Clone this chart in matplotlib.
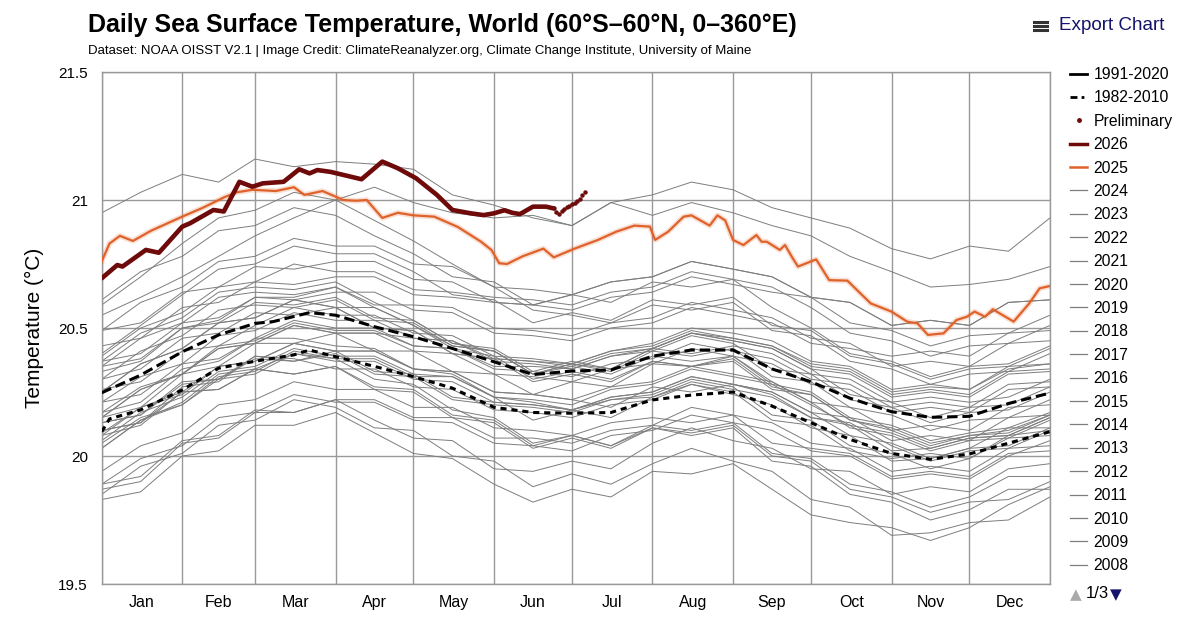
import matplotlib

matplotlib.use("Agg")
import matplotlib.pyplot as plt
from matplotlib.lines import Line2D

plt.rcParams["font.family"] = ["Liberation Sans", "DejaVu Sans"]

# --- Data ---
month_names = ["Jan", "Feb", "Mar", "Apr", "May", "Jun",
               "Jul", "Aug", "Sep", "Oct", "Nov", "Dec"]
month_starts = [0, 31, 59, 90, 120, 151, 181, 212, 243, 273, 304, 334, 365]

# day-of-year sample points used for the historical (gray) years
sample_days = [0, 15, 31, 45, 59, 74, 90, 105, 120, 135, 151, 166, 181,
               196, 212, 227, 243, 258, 273, 288, 304, 319, 334, 349, 365]

gray_years = list(range(1982, 2025))
gray_temps = [
    [19.87, 19.90, 20.05, 20.07, 20.17, 20.17, 20.22, 20.14, 20.07, 20.06, 19.95, 19.94, 19.98, 19.95, 20.05, 20.11, 20.06, 20.03, 19.95, 19.94, 19.85, 19.88, 19.86, 19.95, 19.97],
    [20.03, 20.14, 20.21, 20.32, 20.34, 20.40, 20.38, 20.30, 20.28, 20.18, 20.15, 20.05, 20.08, 20.04, 20.11, 20.08, 20.11, 19.98, 19.96, 19.85, 19.82, 19.75, 19.79, 19.87, 19.87],
    [19.85, 19.96, 20.01, 20.12, 20.14, 20.22, 20.19, 20.11, 20.10, 20.00, 19.98, 19.88, 19.93, 19.89, 19.97, 20.03, 19.98, 19.94, 19.83, 19.80, 19.69, 19.70, 19.74, 19.75, 19.84],
    [19.83, 19.86, 20.00, 20.02, 20.12, 20.12, 20.17, 20.09, 20.01, 19.99, 19.89, 19.82, 19.87, 19.84, 19.94, 19.93, 19.97, 19.87, 19.77, 19.74, 19.72, 19.67, 19.72, 19.81, 19.88],
    [19.89, 19.99, 20.04, 20.15, 20.17, 20.24, 20.21, 20.21, 20.14, 20.13, 20.05, 20.04, 20.02, 20.08, 20.10, 20.16, 20.13, 20.10, 20.02, 20.00, 19.91, 19.93, 19.91, 20.00, 20.06],
    [20.05, 20.15, 20.20, 20.31, 20.33, 20.41, 20.38, 20.38, 20.31, 20.31, 20.23, 20.22, 20.20, 20.26, 20.28, 20.34, 20.31, 20.28, 20.20, 20.12, 20.09, 20.03, 20.07, 20.08, 20.10],
    [20.08, 20.12, 20.25, 20.26, 20.34, 20.32, 20.35, 20.26, 20.25, 20.15, 20.13, 20.03, 20.07, 20.03, 20.11, 20.09, 20.12, 20.00, 19.98, 19.87, 19.84, 19.78, 19.82, 19.83, 19.90],
    [19.89, 19.92, 20.06, 20.08, 20.18, 20.17, 20.22, 20.22, 20.15, 20.15, 20.07, 20.07, 20.05, 20.10, 20.12, 20.19, 20.16, 20.13, 20.05, 20.03, 19.94, 19.96, 19.94, 20.03, 20.04],
    [20.06, 20.17, 20.23, 20.33, 20.35, 20.42, 20.39, 20.39, 20.32, 20.31, 20.23, 20.14, 20.18, 20.15, 20.23, 20.29, 20.26, 20.23, 20.15, 20.13, 20.04, 19.98, 20.02, 20.03, 20.10],
    [20.09, 20.19, 20.24, 20.35, 20.37, 20.44, 20.41, 20.33, 20.32, 20.23, 20.21, 20.20, 20.18, 20.23, 20.25, 20.31, 20.28, 20.25, 20.17, 20.08, 20.05, 19.99, 20.03, 20.11, 20.11],
    [20.10, 20.13, 20.25, 20.26, 20.34, 20.32, 20.35, 20.27, 20.26, 20.16, 20.14, 20.04, 20.08, 20.04, 20.12, 20.10, 20.13, 20.01, 19.99, 19.89, 19.86, 19.80, 19.84, 19.92, 19.92],
    [19.94, 20.04, 20.09, 20.20, 20.22, 20.29, 20.26, 20.26, 20.19, 20.19, 20.11, 20.10, 20.08, 20.13, 20.15, 20.13, 20.16, 20.05, 20.03, 20.01, 19.92, 19.94, 19.92, 20.01, 20.02],
    [20.03, 20.14, 20.20, 20.30, 20.32, 20.40, 20.37, 20.37, 20.30, 20.29, 20.21, 20.20, 20.18, 20.23, 20.25, 20.31, 20.28, 20.25, 20.17, 20.15, 20.06, 20.08, 20.06, 20.15, 20.16],
    [20.17, 20.21, 20.34, 20.37, 20.46, 20.46, 20.43, 20.42, 20.34, 20.32, 20.23, 20.21, 20.18, 20.22, 20.23, 20.28, 20.24, 20.20, 20.11, 20.08, 19.98, 19.99, 20.03, 20.04, 20.11],
    [20.10, 20.13, 20.27, 20.29, 20.39, 20.38, 20.34, 20.34, 20.27, 20.26, 20.18, 20.17, 20.15, 20.20, 20.22, 20.28, 20.25, 20.14, 20.12, 20.02, 19.99, 20.01, 19.99, 20.08, 20.15],
    [20.17, 20.27, 20.32, 20.43, 20.45, 20.52, 20.49, 20.49, 20.43, 20.42, 20.35, 20.35, 20.34, 20.39, 20.42, 20.48, 20.46, 20.43, 20.36, 20.34, 20.25, 20.27, 20.26, 20.34, 20.36],
    [20.35, 20.46, 20.52, 20.62, 20.64, 20.63, 20.66, 20.58, 20.51, 20.42, 20.39, 20.30, 20.33, 20.30, 20.37, 20.35, 20.38, 20.27, 20.24, 20.14, 20.11, 20.05, 20.08, 20.10, 20.16],
    [20.13, 20.16, 20.28, 20.30, 20.38, 20.37, 20.40, 20.32, 20.31, 20.22, 20.20, 20.19, 20.17, 20.22, 20.24, 20.30, 20.27, 20.16, 20.14, 20.04, 20.01, 19.95, 19.99, 20.07, 20.08],
    [20.08, 20.19, 20.25, 20.35, 20.37, 20.44, 20.41, 20.41, 20.34, 20.33, 20.25, 20.24, 20.22, 20.19, 20.27, 20.25, 20.28, 20.24, 20.15, 20.12, 20.02, 20.03, 20.07, 20.08, 20.15],
    [20.15, 20.26, 20.32, 20.42, 20.44, 20.51, 20.48, 20.48, 20.41, 20.40, 20.32, 20.31, 20.29, 20.34, 20.36, 20.42, 20.39, 20.36, 20.28, 20.26, 20.17, 20.19, 20.17, 20.26, 20.27],
    [20.25, 20.36, 20.42, 20.52, 20.54, 20.61, 20.58, 20.50, 20.49, 20.40, 20.38, 20.37, 20.35, 20.40, 20.42, 20.48, 20.45, 20.42, 20.34, 20.32, 20.23, 20.25, 20.23, 20.32, 20.33],
    [20.35, 20.38, 20.50, 20.52, 20.60, 20.59, 20.62, 20.54, 20.53, 20.44, 20.42, 20.33, 20.37, 20.34, 20.42, 20.48, 20.45, 20.42, 20.34, 20.24, 20.21, 20.15, 20.19, 20.20, 20.27],
    [20.26, 20.29, 20.41, 20.43, 20.51, 20.58, 20.55, 20.55, 20.48, 20.47, 20.39, 20.38, 20.36, 20.34, 20.42, 20.40, 20.43, 20.40, 20.32, 20.30, 20.21, 20.23, 20.21, 20.23, 20.30],
    [20.30, 20.41, 20.47, 20.57, 20.59, 20.58, 20.61, 20.53, 20.52, 20.43, 20.41, 20.32, 20.36, 20.33, 20.41, 20.39, 20.42, 20.31, 20.29, 20.19, 20.16, 20.10, 20.14, 20.15, 20.22],
    [20.21, 20.24, 20.36, 20.38, 20.46, 20.53, 20.50, 20.50, 20.43, 20.42, 20.34, 20.33, 20.31, 20.36, 20.38, 20.44, 20.41, 20.38, 20.30, 20.28, 20.19, 20.21, 20.19, 20.28, 20.29],
    [20.30, 20.34, 20.46, 20.48, 20.56, 20.55, 20.58, 20.50, 20.49, 20.40, 20.38, 20.29, 20.32, 20.29, 20.37, 20.35, 20.37, 20.26, 20.24, 20.14, 20.10, 20.04, 20.08, 20.09, 20.16],
    [20.13, 20.16, 20.29, 20.30, 20.39, 20.37, 20.41, 20.41, 20.34, 20.33, 20.25, 20.24, 20.22, 20.27, 20.29, 20.35, 20.32, 20.29, 20.21, 20.11, 20.08, 20.02, 20.06, 20.07, 20.14],
    [20.15, 20.26, 20.32, 20.42, 20.44, 20.51, 20.48, 20.48, 20.46, 20.45, 20.38, 20.37, 20.36, 20.41, 20.44, 20.50, 20.48, 20.45, 20.37, 20.35, 20.26, 20.28, 20.26, 20.35, 20.36],
    [20.37, 20.48, 20.54, 20.64, 20.66, 20.65, 20.68, 20.60, 20.53, 20.44, 20.41, 20.32, 20.35, 20.32, 20.39, 20.37, 20.39, 20.28, 20.25, 20.15, 20.12, 20.06, 20.09, 20.11, 20.17],
    [20.15, 20.19, 20.32, 20.35, 20.44, 20.44, 20.48, 20.41, 20.41, 20.33, 20.32, 20.24, 20.29, 20.27, 20.36, 20.35, 20.39, 20.29, 20.21, 20.19, 20.10, 20.12, 20.10, 20.19, 20.20],
    [20.21, 20.31, 20.36, 20.47, 20.49, 20.56, 20.53, 20.53, 20.46, 20.45, 20.37, 20.36, 20.34, 20.39, 20.41, 20.47, 20.44, 20.34, 20.32, 20.22, 20.19, 20.13, 20.17, 20.18, 20.25],
    [20.25, 20.36, 20.42, 20.52, 20.54, 20.61, 20.58, 20.58, 20.51, 20.43, 20.41, 20.32, 20.36, 20.41, 20.43, 20.49, 20.46, 20.43, 20.35, 20.33, 20.24, 20.26, 20.24, 20.33, 20.34],
    [20.33, 20.37, 20.50, 20.53, 20.62, 20.62, 20.66, 20.59, 20.59, 20.58, 20.50, 20.49, 20.47, 20.52, 20.54, 20.60, 20.57, 20.54, 20.46, 20.44, 20.35, 20.37, 20.35, 20.44, 20.45],
    [20.43, 20.46, 20.58, 20.60, 20.68, 20.67, 20.70, 20.70, 20.63, 20.62, 20.60, 20.59, 20.57, 20.62, 20.64, 20.70, 20.67, 20.64, 20.62, 20.60, 20.51, 20.53, 20.51, 20.60, 20.61],
    [20.59, 20.70, 20.83, 20.93, 20.96, 21.03, 21.00, 20.92, 20.84, 20.75, 20.66, 20.57, 20.55, 20.52, 20.59, 20.57, 20.60, 20.49, 20.47, 20.37, 20.34, 20.28, 20.32, 20.33, 20.40],
    [20.40, 20.51, 20.63, 20.73, 20.75, 20.82, 20.79, 20.79, 20.72, 20.63, 20.61, 20.52, 20.56, 20.53, 20.61, 20.59, 20.62, 20.51, 20.49, 20.39, 20.36, 20.30, 20.34, 20.35, 20.42],
    [20.37, 20.40, 20.52, 20.54, 20.62, 20.61, 20.64, 20.64, 20.57, 20.56, 20.48, 20.47, 20.45, 20.50, 20.52, 20.58, 20.55, 20.52, 20.44, 20.42, 20.39, 20.41, 20.39, 20.48, 20.49],
    [20.49, 20.60, 20.66, 20.76, 20.78, 20.85, 20.82, 20.82, 20.75, 20.74, 20.66, 20.65, 20.63, 20.68, 20.70, 20.76, 20.73, 20.70, 20.62, 20.60, 20.51, 20.53, 20.51, 20.60, 20.61],
    [20.61, 20.72, 20.78, 20.88, 20.90, 20.97, 20.94, 20.86, 20.79, 20.70, 20.68, 20.59, 20.63, 20.60, 20.68, 20.66, 20.69, 20.58, 20.50, 20.40, 20.37, 20.31, 20.35, 20.36, 20.43],
    [20.39, 20.50, 20.56, 20.66, 20.68, 20.75, 20.72, 20.72, 20.65, 20.64, 20.62, 20.61, 20.59, 20.64, 20.66, 20.72, 20.69, 20.66, 20.58, 20.48, 20.45, 20.39, 20.43, 20.44, 20.51],
    [20.49, 20.52, 20.64, 20.66, 20.74, 20.73, 20.76, 20.76, 20.69, 20.68, 20.60, 20.59, 20.63, 20.68, 20.70, 20.76, 20.73, 20.70, 20.62, 20.52, 20.49, 20.43, 20.47, 20.48, 20.55],
    [20.55, 20.62, 20.70, 20.78, 20.86, 20.93, 21.00, 21.05, 20.99, 20.95, 20.93, 20.94, 20.90, 20.99, 21.02, 21.07, 21.04, 20.97, 20.93, 20.89, 20.81, 20.77, 20.82, 20.80, 20.93],
    [20.95, 21.03, 21.10, 21.07, 21.16, 21.13, 21.15, 21.14, 21.12, 21.02, 20.98, 20.93, 20.90, 20.99, 20.94, 20.99, 20.95, 20.90, 20.86, 20.78, 20.72, 20.66, 20.67, 20.69, 20.74],
]

clim_9120_days = [0, 15, 31, 45, 59, 66, 74, 80, 90, 105, 120, 135, 151, 166,
                  181, 196, 212, 227, 243, 258, 273, 288, 304, 319, 334, 349, 365]
clim_9120 = [20.247, 20.316, 20.407, 20.473, 20.518, 20.525, 20.545, 20.56, 20.55,
             20.505, 20.466, 20.42, 20.368, 20.318, 20.332, 20.336, 20.39, 20.414,
             20.414, 20.34, 20.29, 20.226, 20.173, 20.151, 20.155, 20.205, 20.246]

clim_8210_days = [0, 3, 15, 31, 45, 59, 74, 80, 90, 105, 120, 135, 151, 166,
                  181, 196, 212, 227, 243, 258, 273, 288, 304, 319, 334, 349, 365]
clim_8210 = [20.095, 20.145, 20.18, 20.258, 20.343, 20.37, 20.395, 20.414, 20.388,
             20.35, 20.31, 20.265, 20.19, 20.17, 20.167, 20.17, 20.219, 20.238,
             20.25, 20.195, 20.13, 20.065, 20.01, 19.987, 20.008, 20.05, 20.095]

y2025_days = [0, 3, 7, 12, 19, 31, 39, 47, 52, 58, 67, 74, 78, 85, 93, 98, 102,
              108, 114, 120, 128, 137, 142, 146, 150, 153, 156, 162, 170, 174,
              182, 191, 198, 205, 211, 213, 218, 224, 227, 234, 237, 240, 243,
              247, 252, 254, 256, 261, 263, 266, 268, 275, 280, 287, 296, 304,
              310, 314, 318, 324, 329, 333, 336, 340, 343, 351, 357, 361, 365]
y2025 = [20.76, 20.83, 20.86, 20.84, 20.88, 20.935, 20.97, 21.01, 21.03, 21.04,
         21.035, 21.05, 21.02, 21.035, 21.00, 20.997, 21.00, 20.93, 20.95, 20.94,
         20.935, 20.895, 20.863, 20.837, 20.805, 20.753, 20.75, 20.78, 20.81,
         20.776, 20.81, 20.844, 20.876, 20.90, 20.896, 20.844, 20.876, 20.935,
         20.94, 20.90, 20.94, 20.92, 20.844, 20.824, 20.863, 20.837, 20.837,
         20.805, 20.824, 20.772, 20.74, 20.768, 20.687, 20.685, 20.596, 20.564,
         20.525, 20.518, 20.473, 20.479, 20.531, 20.544, 20.564, 20.544, 20.573,
         20.525, 20.596, 20.655, 20.664]

y2026_days = [0, 6, 8, 17, 22, 31, 34, 43, 47, 53, 58, 62, 70, 76, 80, 83, 88,
              93, 100, 108, 114, 121, 129, 135, 142, 147, 151, 155, 158, 161,
              166, 171, 174]
y2026 = [20.694, 20.746, 20.74, 20.805, 20.794, 20.896, 20.909, 20.961, 20.955,
         21.071, 21.052, 21.065, 21.071, 21.12, 21.104, 21.117, 21.11, 21.098,
         21.081, 21.15, 21.124, 21.085, 21.02, 20.961, 20.948, 20.941, 20.948,
         20.96, 20.95, 20.945, 20.974, 20.974, 20.967]

prelim_days = [174, 175, 176, 177, 178, 179, 180, 181, 182, 183, 184, 185, 186]
prelim = [20.967, 20.955, 20.945, 20.958, 20.966, 20.974, 20.978, 20.985,
          20.99, 20.995, 21.005, 21.018, 21.032]

legend_years = list(range(2024, 2007, -1))

# --- Styles ---
GRAY = "#7d7d7d"
GRID = "#999999"
ORANGE = "#e0622a"
DARKRED = "#6e0a0a"
NAVY = "#14146b"

fig = plt.figure(figsize=(12, 6.26), dpi=100)
ax = fig.add_axes([101.7 / 1200, 1 - 584 / 626, (1050 - 101.7) / 1200, 512 / 626])

for temps in gray_temps:
    ax.plot(sample_days, temps, color=GRAY, lw=0.7, zorder=2)

ax.plot(clim_8210_days, clim_8210, color="black", lw=2.2, dashes=(2.0, 1.6), zorder=3)
ax.plot(clim_9120_days, clim_9120, color="black", lw=2.2, dashes=(3.4, 1.6), zorder=3)

ax.plot(y2025_days, y2025, color=ORANGE, lw=4.0, alpha=0.2, zorder=4,
        solid_joinstyle="round")
ax.plot(y2025_days, y2025, color=ORANGE, lw=1.6, zorder=5, solid_joinstyle="round")
ax.plot(y2026_days, y2026, color=DARKRED, lw=3.3, zorder=6, solid_joinstyle="round",
        solid_capstyle="round")
ax.plot(prelim_days, prelim, color=DARKRED, lw=0, marker="o", ms=2.2, zorder=6)

ax.set_xlim(0, 365)
ax.set_ylim(19.5, 21.5)
ax.set_yticks([19.5, 20, 20.5, 21, 21.5])
ax.set_yticklabels(["19.5", "20", "20.5", "21", "21.5"], fontsize=11)
ax.set_xticks(month_starts)
ax.set_xticklabels([])
mid = [(month_starts[i] + month_starts[i + 1]) / 2 for i in range(12)]
ax.set_xticks(mid, minor=True)
ax.set_xticklabels(month_names, minor=True, fontsize=11.5)
ax.tick_params(axis="both", which="both", length=0)
ax.tick_params(axis="x", which="minor", pad=8)
ax.tick_params(axis="y", pad=10)
ax.grid(True, which="major", color=GRID, lw=1.0, zorder=1)
ax.set_axisbelow(True)
for s in ax.spines.values():
    s.set_color(GRID)
    s.set_linewidth(1.0)

ax.set_ylabel("Temperature (°C)", fontsize=15, labelpad=10)

fig.text(88 / 1200, 1 - 25 / 626, "Daily Sea Surface Temperature, World (60°S–60°N, 0–360°E)",
         fontsize=18, fontweight="bold", va="center")
fig.text(88 / 1200, 1 - 51 / 626,
         "Dataset: NOAA OISST V2.1 | Image Credit: ClimateReanalyzer.org, "
         "Climate Change Institute, University of Maine",
         fontsize=9.5, va="center")

# export menu icon + label
for dy in (-4, 0, 4):
    fig.add_artist(Line2D([1034 / 1200, 1047 / 1200],
                          [1 - (26 + dy) / 626] * 2, color="#333333", lw=2.2))
fig.text(1059 / 1200, 1 - 26 / 626, "Export Chart", fontsize=13.6, color=NAVY,
         va="center")

handles = [
    Line2D([], [], color="black", lw=2.0),
    Line2D([], [], color="black", lw=2.0, dashes=(2.5, 1.5, 1, 1.5)),
    Line2D([], [], color=DARKRED, lw=0, marker="o", ms=2.5),
    Line2D([], [], color=DARKRED, lw=2.5),
    Line2D([], [], color=ORANGE, lw=1.8),
] + [Line2D([], [], color=GRAY, lw=0.9) for _ in legend_years]
labels = ["1991-2020", "1982-2010", "Preliminary", "2026", "2025"] + [str(y) for y in legend_years]
fig.legend(handles, labels, loc="upper left", bbox_to_anchor=(1070 / 1200, 1 - 67 / 626),
           frameon=False, fontsize=11.3, handlelength=1.1, handletextpad=0.4,
           labelspacing=0.535, borderpad=0, borderaxespad=0)

# pager
fig.text(1070 / 1200, 1 - 595 / 626, "▲", fontsize=11, color="#aaaaaa", va="center",
         family="DejaVu Sans")
fig.text(1086 / 1200, 1 - 594 / 626, "1/3", fontsize=12, color="black", va="center")
fig.text(1110 / 1200, 1 - 595 / 626, "▼", fontsize=11, color=NAVY, va="center",
         family="DejaVu Sans")

fig.savefig("out.png", dpi=100)
